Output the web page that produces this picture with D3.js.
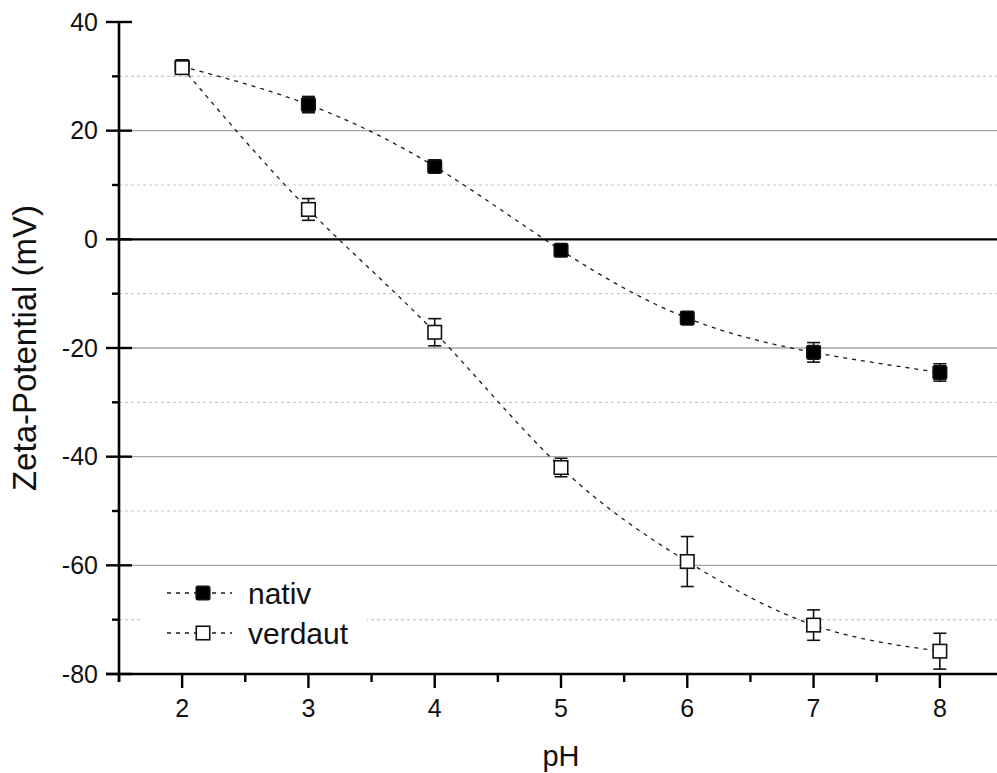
<!DOCTYPE html>
<html>
<head>
<meta charset="utf-8">
<script src="https://cdn.jsdelivr.net/npm/d3@7"></script>
<style>
  html, body { margin: 0; padding: 0; background: #fff; }
  svg { display: block; }
  text { font-family: "Liberation Sans", Arial, sans-serif; fill: #111; }
</style>
</head>
<body>
<svg id="chart" width="997" height="773"></svg>
<script>
// pH values and zeta-potential measurements (mV) with standard deviations
const phValues = [2, 3, 4, 5, 6, 7, 8];
const nativMean = [31.8, 24.8, 13.4, -2.0, -14.5, -20.8, -24.5];
const nativErr  = [1.0, 1.5, 1.0, 0.5, 0.5, 1.8, 1.6];
const verdautMean = [31.6, 5.5, -17.1, -42.0, -59.3, -71.0, -75.8];
const verdautErr  = [1.2, 2.0, 2.5, 1.7, 4.6, 2.8, 3.3];

const xTicks = [2, 3, 4, 5, 6, 7, 8];
const xMinorTicks = [1.5, 2.5, 3.5, 4.5, 5.5, 6.5, 7.5, 8.5];
const yTicks = [40, 20, 0, -20, -40, -60, -80];
const yMinorTicks = [30, 10, -10, -30, -50, -70];
const seriesNames = ["nativ", "verdaut"];

const svg = d3.select("#chart");
const W = 997;

const x = d3.scaleLinear().domain([1.5, 8.5]).range([119, 1003]);
const y = d3.scaleLinear().domain([-80, 40]).range([674, 22]);

const series = [
  { name: seriesNames[0], mean: nativMean, err: nativErr, filled: true },
  { name: seriesNames[1], mean: verdautMean, err: verdautErr, filled: false }
];

// Grid: solid grey at major values, dotted at minor values, black zero line
const grid = svg.append("g");
grid.selectAll("line.minor").data(yMinorTicks).join("line")
  .attr("x1", x(1.5)).attr("x2", W)
  .attr("y1", d => y(d)).attr("y2", d => y(d))
  .attr("stroke", "#c8c8c8").attr("stroke-width", 1.2)
  .attr("stroke-dasharray", "3,3");
grid.selectAll("line.major").data([20, -20, -40, -60]).join("line")
  .attr("x1", x(1.5)).attr("x2", W)
  .attr("y1", d => y(d)).attr("y2", d => y(d))
  .attr("stroke", "#a6a6a6").attr("stroke-width", 1.3);
grid.append("line")
  .attr("x1", x(1.5)).attr("x2", W)
  .attr("y1", y(0)).attr("y2", y(0))
  .attr("stroke", "#000").attr("stroke-width", 2.2);

// Connecting spline curves (dashed)
const line = d3.line()
  .x((d, i) => x(phValues[i]))
  .y(d => y(d))
  .curve(d3.curveNatural);

const plot = svg.append("g");
series.forEach(s => {
  plot.append("path")
    .attr("d", line(s.mean))
    .attr("fill", "none")
    .attr("stroke", "#1a1a1a")
    .attr("stroke-width", 1.3)
    .attr("stroke-dasharray", "4,5");
});

// Error bars
const capW = 6.5;
series.forEach(s => {
  const g = plot.append("g").attr("stroke", "#111").attr("stroke-width", 1.6);
  s.mean.forEach((m, i) => {
    const cx = x(phValues[i]);
    const yTop = y(m + s.err[i]);
    const yBot = y(m - s.err[i]);
    g.append("line").attr("x1", cx).attr("x2", cx).attr("y1", yTop).attr("y2", yBot);
    g.append("line").attr("x1", cx - capW).attr("x2", cx + capW).attr("y1", yTop).attr("y2", yTop);
    g.append("line").attr("x1", cx - capW).attr("x2", cx + capW).attr("y1", yBot).attr("y2", yBot);
  });
});

// Square markers
const mk = 13.5;
series.forEach(s => {
  plot.append("g").selectAll("rect").data(s.mean).join("rect")
    .attr("x", (d, i) => x(phValues[i]) - mk / 2)
    .attr("y", d => y(d) - mk / 2)
    .attr("width", mk).attr("height", mk)
    .attr("rx", s.filled ? 1.5 : 0)
    .attr("fill", s.filled ? "#000" : "#fff")
    .attr("stroke", "#111")
    .attr("stroke-width", 1.6);
});

// Axes
const axes = svg.append("g").attr("stroke", "#000");
axes.append("line").attr("x1", x(1.5)).attr("x2", x(1.5))
  .attr("y1", y(40)).attr("y2", y(-80) + 8).attr("stroke-width", 2.6);
axes.append("line").attr("x1", x(1.5) - 13).attr("x2", W)
  .attr("y1", y(-80)).attr("y2", y(-80)).attr("stroke-width", 2.6);
axes.selectAll("line.ymaj").data(yTicks).join("line")
  .attr("x1", x(1.5) - 13).attr("x2", x(1.5) + 13)
  .attr("y1", d => y(d)).attr("y2", d => y(d)).attr("stroke-width", 2.4);
axes.selectAll("line.ymin").data(yMinorTicks).join("line")
  .attr("x1", x(1.5) - 7).attr("x2", x(1.5))
  .attr("y1", d => y(d)).attr("y2", d => y(d)).attr("stroke-width", 2.4);
axes.selectAll("line.xmaj").data(xTicks).join("line")
  .attr("x1", d => x(d)).attr("x2", d => x(d))
  .attr("y1", y(-80)).attr("y2", y(-80) + 14).attr("stroke-width", 2.4);
axes.selectAll("line.xmin").data(xMinorTicks).join("line")
  .attr("x1", d => x(d)).attr("x2", d => x(d))
  .attr("y1", y(-80)).attr("y2", y(-80) + 8).attr("stroke-width", 2.4);

// Tick labels
svg.append("g").selectAll("text").data(yTicks).join("text")
  .attr("x", x(1.5) - 21).attr("y", d => y(d))
  .attr("dy", "0.35em")
  .attr("text-anchor", "end")
  .attr("font-size", 25)
  .text(d => d);
svg.append("g").selectAll("text").data(xTicks).join("text")
  .attr("x", d => x(d)).attr("y", 717)
  .attr("text-anchor", "middle")
  .attr("font-size", 25)
  .text(d => d);

// Axis titles
svg.append("text")
  .attr("x", x(5)).attr("y", 766)
  .attr("text-anchor", "middle")
  .attr("font-size", 29)
  .text("pH");
svg.append("text")
  .attr("transform", `translate(36, ${y(-20)}) rotate(-90)`)
  .attr("text-anchor", "middle")
  .attr("font-size", 33)
  .text("Zeta-Potential (mV)");

// Legend
const legend = svg.append("g");
legend.append("rect")
  .attr("x", 143).attr("y", 572).attr("width", 224).attr("height", 88)
  .attr("fill", "#fff");
series.forEach((s, i) => {
  const ly = 593 + i * 40;
  legend.append("line")
    .attr("x1", 167).attr("x2", 232).attr("y1", ly).attr("y2", ly)
    .attr("stroke", "#1a1a1a").attr("stroke-width", 1.3)
    .attr("stroke-dasharray", "4,5");
  legend.append("rect")
    .attr("x", 203 - mk / 2).attr("y", ly - mk / 2)
    .attr("width", mk).attr("height", mk)
    .attr("rx", s.filled ? 1.5 : 0)
    .attr("fill", s.filled ? "#000" : "#fff")
    .attr("stroke", "#111").attr("stroke-width", 1.6);
  legend.append("text")
    .attr("x", 248).attr("y", ly)
    .attr("dy", "0.35em")
    .attr("font-size", 30)
    .text(s.name);
});
</script>
</body>
</html>
